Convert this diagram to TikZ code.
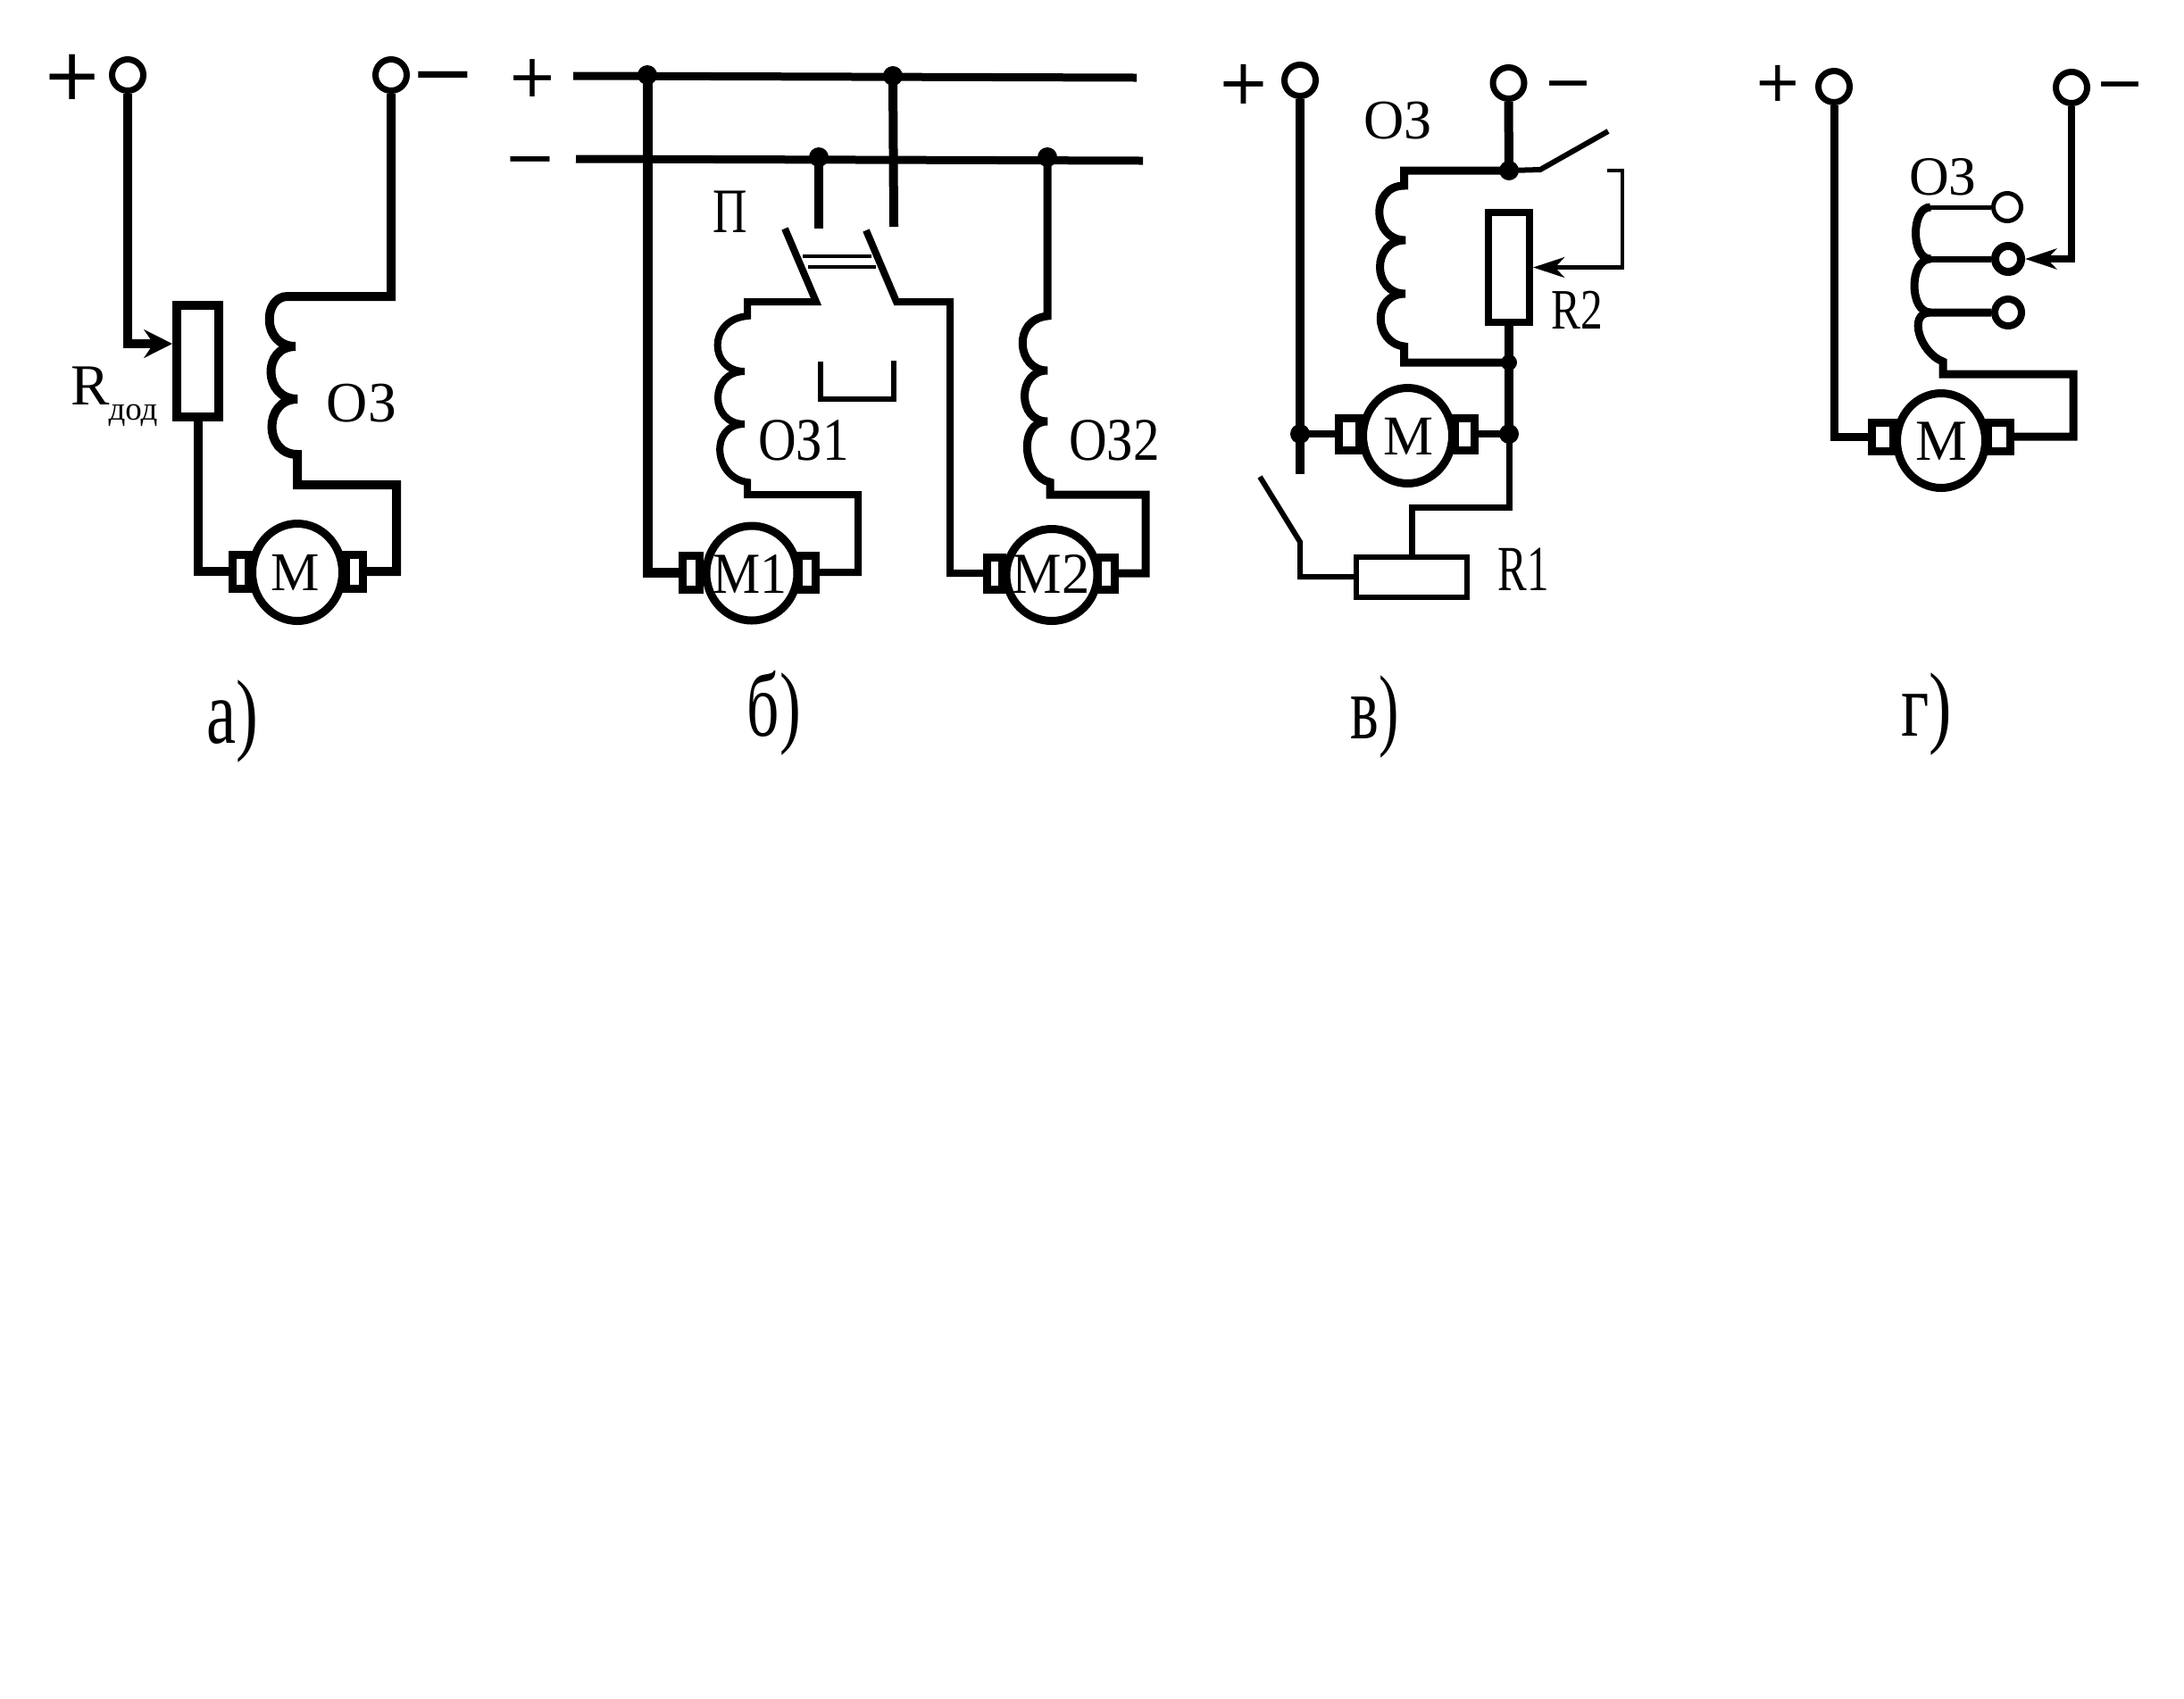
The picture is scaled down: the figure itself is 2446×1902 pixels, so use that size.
\documentclass[tikz,border=0pt]{standalone}
\usepackage{fontspec}
\setmainfont{Liberation Serif}
\newfontfamily\symfont{DejaVu Sans}
\usetikzlibrary{shapes.geometric,arrows.meta}
\def\pxu{0.01cm}
\newcommand\F[1]{\fontsize{#1pt}{#1pt}\selectfont}
\tikzset{
  wire/.style={draw=black,line width=10*\pxu,line join=miter},
  wirethin/.style={draw=black,line width=6*\pxu},
  coilw/.style={draw=black,line width=9*\pxu,line join=round},
  term/.style={circle,draw=black,fill=white,line width=7*\pxu,minimum size=35*\pxu,inner sep=0},
  jdot/.style={circle,fill=black,minimum size=22*\pxu,inner sep=0},
  resbox/.style={rectangle,draw=black,fill=white,line width=10*\pxu,inner sep=0},
  brushbox/.style={rectangle,draw=black,fill=white,line width=9*\pxu,inner sep=0},
  armature/.style={ellipse,draw=black,fill=white,line width=9*\pxu,inner sep=0},
  lab/.style={inner sep=0,anchor=base,text=black},
  sym/.style={inner sep=0,anchor=center,text=black},
  tipwide/.style={-{Stealth[length=9pt,width=9pt,inset=3pt]}},
  tipnarrow/.style={-{Stealth[length=10pt,width=6.5pt,inset=3pt]}},
  caption/.style={lab,font=\F{29},transform shape},
}
\begin{document}
\begin{tikzpicture}[x=0.01cm,y=-0.01cm]
\useasboundingbox (0,0) rectangle (2446,1902);
\fill[white] (0,0) rectangle (2446,1902);

% ---------- panel a ----------
\node[sym,font=\symfont\F{22.8}] (aPlus) at (81,86) {+};
\node[sym,font=\symfont\F{25}] (aMinus) at (496,96) {−};
\node[term] (aP) at (143,84) {};
\node[term] (aN) at (438,84) {};
\node[resbox,minimum width=47*\pxu,minimum height=125*\pxu] (aR) at (221.5,404.5) {};
\node[brushbox,minimum width=18*\pxu,minimum height=38*\pxu] (aBL) at (269.5,640) {};
\node[brushbox,minimum width=19*\pxu,minimum height=38*\pxu] (aBR) at (397,640) {};
\node[armature,minimum width=101*\pxu,minimum height=109*\pxu] (aM) at (333,641) {};
\coordinate (aTap) at (193,385);
\coordinate (aC1) at (444,543);
\draw[wire,tipwide] (aP.south) |- (aTap);
\draw[wire] (aR.south) |- (aBL.west);
\draw[wire] (aBR.east) -| (aC1) -- (333,543) -- (333,509)
  .. controls +(-38,0) and +(-38,0) .. (333,447)
  .. controls +(-38,0) and +(-38,0) .. (331,388)
  .. controls +(-38,0) and +(-28,0) .. (322,332) -| (aN.south);
\node[lab,font=\F{18.5}] (aRl) at (101,453) {R};
\node[lab,font=\F{10.5}] (aRs) at (149,470) {дод};
\node[lab,font=\F{18.2}] (aOZ) at (405,472) {ОЗ};
\node[lab,font=\F{17.4}] (aMl) at (331,661) {М};
\node[caption,xscale=.73] (aCap) at (260,832) {а)};

% ---------- panel b ----------
\node[sym,font=\symfont\F{19}] (bPlus) at (596,88) {+};
\node[sym,font=\symfont\F{20}] (bMinus) at (594,188) {−};
\coordinate (bP1) at (642,85);
\coordinate (bP2) at (1273,87);
\coordinate (bN1) at (645,178);
\coordinate (bN2) at (1280,180);
\draw[wire,line width=9*\pxu] (bP1) -- (bP2);
\draw[wire,line width=9*\pxu] (bN1) -- (bN2);
\node[jdot] (bD1) at (725,84) {};
\node[jdot] (bD2) at (1000,85) {};
\node[jdot] (bD3) at (917,176) {};
\node[jdot] (bD4) at (1173,176) {};
\node[brushbox,minimum width=19*\pxu,minimum height=38*\pxu] (bBL1) at (774,641) {};
\node[brushbox,minimum width=19*\pxu,minimum height=38*\pxu] (bBR1) at (904,641) {};
\node[armature,minimum width=102*\pxu,minimum height=106*\pxu] (bM1) at (842,642) {};
\node[brushbox,minimum width=17*\pxu,minimum height=36*\pxu] (bBL2) at (1114,642) {};
\node[brushbox,minimum width=19*\pxu,minimum height=36*\pxu] (bBR2) at (1239,642) {};
\node[armature,minimum width=102*\pxu,minimum height=103*\pxu] (bM2) at (1178,644) {};
\coordinate (bC1) at (917,256);
\coordinate (bC2) at (1001,254);
\coordinate (bB1) at (879,256);
\coordinate (bB2) at (970,258);
\draw[wire,line width=11*\pxu] (bD1.center) |- (bBL1.west);
\draw[wire] (bD3.center) -- (bC1);
\draw[wire] (bD2.center) -- (bC2);
\draw[wire,line width=8*\pxu] (bB1) -- (914,338) -- (837,338) -- (837,354)
  .. controls +(-45,4) and +(-40,0) .. (834,416)
  .. controls +(-40,0) and +(-40,0) .. (834,475)
  .. controls +(-40,0) and +(-38,-5) .. (837,540) -- (837,554) -- (961,554) |- (bBR1.east);
\draw[wire,line width=8*\pxu] (bB2) -- (1004,338) -- (1064,338) |- (bBL2.west);
\draw[wire,line width=9*\pxu] (bD4.center) -- (1173,354)
  .. controls +(-40,4) and +(-34,0) .. (1173,415)
  .. controls +(-34,0) and +(-34,0) .. (1173,472)
  .. controls +(-34,0) and +(-30,-5) .. (1176,540) -- (1176,554) -- (1283,554) |- (bBR2.east);
\coordinate (bK1) at (899,287);
\coordinate (bK2) at (976,287);
\coordinate (bK3) at (905,299);
\coordinate (bK4) at (981,299);
\draw[black,line width=4*\pxu] (bK1) -- (bK2);
\draw[black,line width=4*\pxu] (bK3) -- (bK4);
\coordinate (bU1) at (919,405);
\coordinate (bU2) at (1001,404);
\draw[black,line width=6*\pxu] (bU1) -- (919,447) -- (1001,447) -- (bU2);
\node[lab,font=\F{20.2},transform shape,xscale=.75] (bPi) at (818,260) {П};
\node[lab,font=\F{19.3},transform shape,xscale=.87] (bOZ1) at (900,515) {ОЗ1};
\node[lab,font=\F{19.3},transform shape,xscale=.87] (bOZ2) at (1248,515) {ОЗ2};
\node[lab,font=\F{18.5},transform shape,xscale=.92] (bM1l) at (840,664) {М1};
\node[lab,font=\F{18.5},transform shape,xscale=.96] (bM2l) at (1177,664) {М2};
\node[caption,xscale=.7] (bCap) at (867,824) {б)};

% ---------- panel v ----------
\node[sym,font=\symfont\F{20}] (vPlus) at (1393,94) {+};
\node[sym,font=\symfont\F{19}] (vMinus) at (1756,103) {−};
\node[term] (vP) at (1456,90) {};
\node[term] (vN) at (1689.5,93) {};
\node[brushbox,minimum width=23*\pxu,minimum height=36*\pxu] (vBL) at (1511,486) {};
\node[brushbox,minimum width=22*\pxu,minimum height=36*\pxu] (vBR) at (1640.5,486) {};
\node[armature,minimum width=100*\pxu,minimum height=107*\pxu] (vM) at (1576.5,488) {};
\node[resbox,line width=8*\pxu,minimum width=46*\pxu,minimum height=123*\pxu] (vR2) at (1690,299.5) {};
\node[resbox,line width=6*\pxu,minimum width=124*\pxu,minimum height=45*\pxu] (vR1) at (1581,646) {};
\node[jdot] (vD1) at (1456,486) {};
\node[jdot] (vD2) at (1690,486) {};
\node[jdot] (vD3) at (1690,191) {};
\node[jdot,minimum size=18*\pxu] (vD4) at (1690,406) {};
\coordinate (vEnd) at (1456,531);
\draw[wire] (vP.south) -- (vEnd);
\draw[wire,line width=8*\pxu] (vD1.center) -- (vBL.west);
\draw[wire,line width=8*\pxu] (vBR.east) -- (vD2.center);
\draw[wire] (vN.south) -- (vD3.center);
\draw[wire,line width=9*\pxu] (vD3.center) -- (1572.5,191) -- (1572.5,208)
  .. controls +(-38,0) and +(-38,0) .. (1574,269)
  .. controls +(-38,0) and +(-38,0) .. (1574,329)
  .. controls +(-38,0) and +(-34,-4) .. (1572.5,388) -- (1572.5,406) -- (vD4.center);
\draw[wire] (vR2.south) -- (vD4.center) -- (vD2.center);
\coordinate (vC) at (1690,568);
\draw[wire,line width=7*\pxu] (vD2.center) -- (vC) -| (vR1.north);
\coordinate (vJ) at (1456,607);
\coordinate (vBl) at (1411,534);
\draw[wirethin] (vR1.west) -| (vJ) -- (vBl);
\coordinate (vS1) at (1725,190);
\coordinate (vS2) at (1801,147);
\draw[wirethin] (vD3.center) -- (vS1) -- (vS2);
\coordinate (vB0) at (1800,191);
\coordinate (vB1) at (1817,191);
\coordinate (vB2) at (1817,299.5);
\draw[draw=black,line width=4.5*\pxu,tipnarrow] (vB0) -- (vB1) -- (vB2) -- (vR2.east);
\node[lab,font=\F{17.8}] (vOZ) at (1566,155) {ОЗ};
\node[lab,font=\F{18.2},transform shape,xscale=.77] (vR2l) at (1766,368) {R2};
\node[lab,font=\F{20.5},transform shape,xscale=.68] (vR1l) at (1706,661) {R1};
\node[lab,font=\F{17.9}] (vMl) at (1577,509) {М};
\node[caption,xscale=.66] (vCap) at (1540,827) {в)};

% ---------- panel g ----------
\node[sym,font=\symfont\F{18.2}] (gPlus) at (1991,93) {+};
\node[sym,font=\symfont\F{19}] (gMinus) at (2374,104) {−};
\node[term] (gP) at (2054,97) {};
\node[term] (gN) at (2320,98) {};
\node[brushbox,minimum width=24*\pxu,minimum height=32*\pxu] (gBL) at (2108,489) {};
\node[brushbox,minimum width=25*\pxu,minimum height=32*\pxu] (gBR) at (2239,489) {};
\node[armature,minimum width=99*\pxu,minimum height=106*\pxu] (gM) at (2174,493.5) {};
\node[term,line width=5*\pxu,minimum size=31*\pxu] (gT1) at (2248,232) {};
\node[term,line width=9*\pxu,minimum size=29*\pxu] (gT2) at (2249,290) {};
\node[term,line width=8*\pxu,minimum size=30*\pxu] (gT3) at (2249,350) {};
\draw[wire,line width=9*\pxu] (gP.south) |- (gBL.west);
\draw[wire,line width=9*\pxu] (gBR.east) -| (2322,419) -- (2176,419) -- (2176,405)
  .. controls (2150,395) and (2136,350) .. (2162,350) -- (gT3.west);
\draw[draw=black,line width=5*\pxu] (gT1.west) -- (2162,232);
\draw[coilw] (2162,232) .. controls +(-22,0) and +(-22,0) .. (2162,290);
\draw[coilw] (2162,290) .. controls +(-24,0) and +(-24,0) .. (2162,350);
\draw[draw=black,line width=7*\pxu] (2162,290) -- (gT2.west);
\draw[wire,line width=8*\pxu,tipnarrow] (gN.south) |- (gT2.east);
\node[lab,font=\F{17.6}] (gOZ) at (2176,218) {ОЗ};
\node[lab,font=\F{18.5}] (gMl) at (2174,515) {М};
\node[caption,xscale=.75] (gCap) at (2158,824) {г)};
\end{tikzpicture}
\end{document}
